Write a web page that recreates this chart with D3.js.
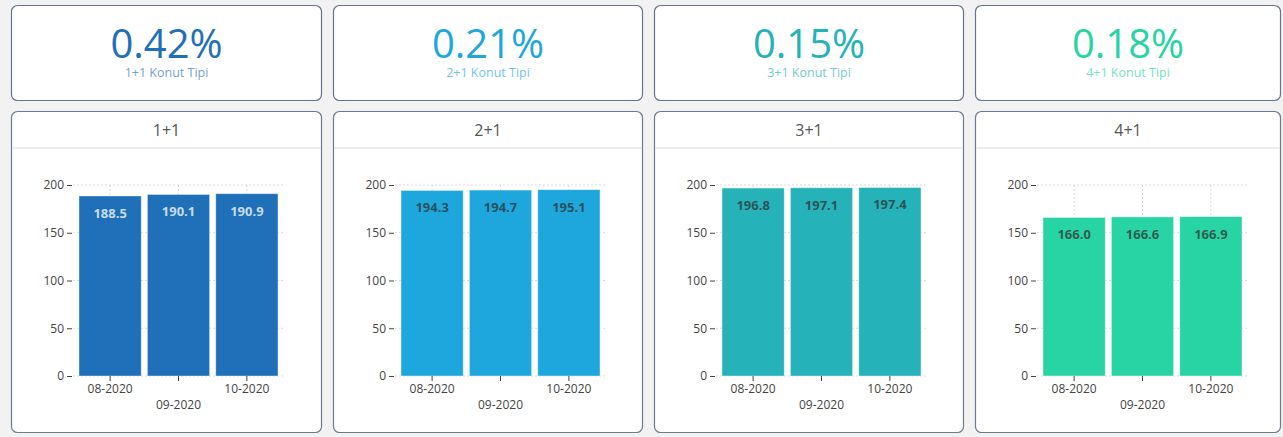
<!DOCTYPE html>
<html>
<head>
<meta charset="utf-8">
<script src="https://cdn.jsdelivr.net/npm/d3@7"></script>
<style>
  body { margin: 0; background: #f2f2f2; font-family: "Open Sans", sans-serif; }
  svg { display: block; }
</style>
</head>
<body>
<div id="viz"></div>
<script>
// data
const types = ["1+1", "2+1", "3+1", "4+1"];
const changes = ["0.42%", "0.21%", "0.15%", "0.18%"];
const months = ["08-2020", "09-2020", "10-2020"];
const values = [
  [188.5, 190.1, 190.9],
  [194.3, 194.7, 195.1],
  [196.8, 197.1, 197.4],
  [166.0, 166.6, 166.9]
];
const yTicks = [0, 50, 100, 150, 200];
const colors = ["#1f70b8", "#1ea7dc", "#26b2b9", "#29d4a4"];

const w = 1283, h = 437;
const cardX = [11, 333, 654, 975];
const cardW = [311, 310, 310, 306];

const svg = d3.select("#viz").append("svg").attr("width", w).attr("height", h);

// scales (shared inside each card)
const x = d3.scaleBand().domain(months).range([68, 267]).paddingInner(0.09).paddingOuter(0);
const y = d3.scaleLinear().domain([0, 200]).range([376, 185]);

types.forEach((t, i) => {
  const col = colors[i];

  // top KPI card
  const top = svg.append("g").attr("transform", `translate(${cardX[i]},5)`);
  top.append("rect")
    .attr("x", 0.5).attr("y", 0.5)
    .attr("width", cardW[i] - 1).attr("height", 95)
    .attr("rx", 6).attr("fill", "#fff")
    .attr("stroke", "#64748b").attr("stroke-width", 1.2);
  top.append("text")
    .attr("x", cardW[i] / 2).attr("y", 53)
    .attr("text-anchor", "middle")
    .style("font-size", "40px").style("fill", col)
    .text(changes[i]);
  top.append("text")
    .attr("x", cardW[i] / 2).attr("y", 72)
    .attr("text-anchor", "middle")
    .style("font-size", "12.5px").style("fill", col).style("opacity", 0.65)
    .text(t + " Konut Tipi");

  // chart card
  const g = svg.append("g").attr("transform", `translate(${cardX[i]},0)`);
  g.append("rect")
    .attr("x", 0.5).attr("y", 111.5)
    .attr("width", cardW[i] - 1).attr("height", 321)
    .attr("rx", 6).attr("fill", "#fff")
    .attr("stroke", "#6b7a90").attr("stroke-width", 1.2);
  g.append("line")
    .attr("x1", 1).attr("x2", cardW[i] - 1)
    .attr("y1", 148).attr("y2", 148)
    .attr("stroke", "#e6e6e6").attr("stroke-width", 1.5);
  g.append("text")
    .attr("x", cardW[i] / 2).attr("y", 136)
    .attr("text-anchor", "middle")
    .style("font-size", "16px").style("fill", "#555")
    .text(t);

  // grid
  g.append("g").selectAll("line.hg").data(yTicks).enter().append("line")
    .attr("x1", 62).attr("x2", 273)
    .attr("y1", d => y(d)).attr("y2", d => y(d))
    .attr("stroke", "#d9d9d9").attr("stroke-dasharray", "2,2");
  g.append("g").selectAll("line.vg").data(months).enter().append("line")
    .attr("x1", d => x(d) + x.bandwidth() / 2).attr("x2", d => x(d) + x.bandwidth() / 2)
    .attr("y1", y(200)).attr("y2", y(0))
    .attr("stroke", "#d9d9d9").attr("stroke-dasharray", "2,2");

  // bars
  g.append("g").selectAll("rect").data(values[i]).enter().append("rect")
    .attr("x", (d, j) => x(months[j]))
    .attr("y", d => y(d))
    .attr("width", x.bandwidth())
    .attr("height", d => y(0) - y(d))
    .attr("fill", col)
    .attr("stroke", "rgba(255,255,255,0.5)").attr("stroke-width", 0.8);

  // bar labels
  g.append("g").selectAll("text").data(values[i]).enter().append("text")
    .attr("x", (d, j) => x(months[j]) + x.bandwidth() / 2)
    .attr("y", d => y(d) + 22)
    .attr("text-anchor", "middle")
    .style("font-size", "13px").style("font-weight", "bold")
    .style("fill", i === 0 ? "rgba(255,255,255,0.75)" : "rgba(45,45,45,0.72)")
    .text(d => d.toFixed(1));

  // y axis
  const ya = g.append("g").attr("transform", "translate(61,0)")
    .call(d3.axisLeft(y).tickValues(yTicks).tickSize(5).tickPadding(3));
  ya.select(".domain").remove();
  ya.selectAll("text").style("font-size", "12px").style("fill", "#444").style("font-family", "Open Sans");
  ya.selectAll("line").attr("stroke", "#444");

  // x axis (middle label staggered)
  const xa = g.append("g").attr("transform", `translate(0,${y(0)})`)
    .call(d3.axisBottom(x).tickSize(5).tickPadding(3));
  xa.select(".domain").remove();
  xa.selectAll("line").attr("stroke", "#444");
  xa.selectAll("text")
    .style("font-size", "12px").style("fill", "#444").style("font-family", "Open Sans")
    .attr("dy", (d, j) => j === 1 ? "2.05em" : "0.71em");
});
</script>
</body>
</html>
